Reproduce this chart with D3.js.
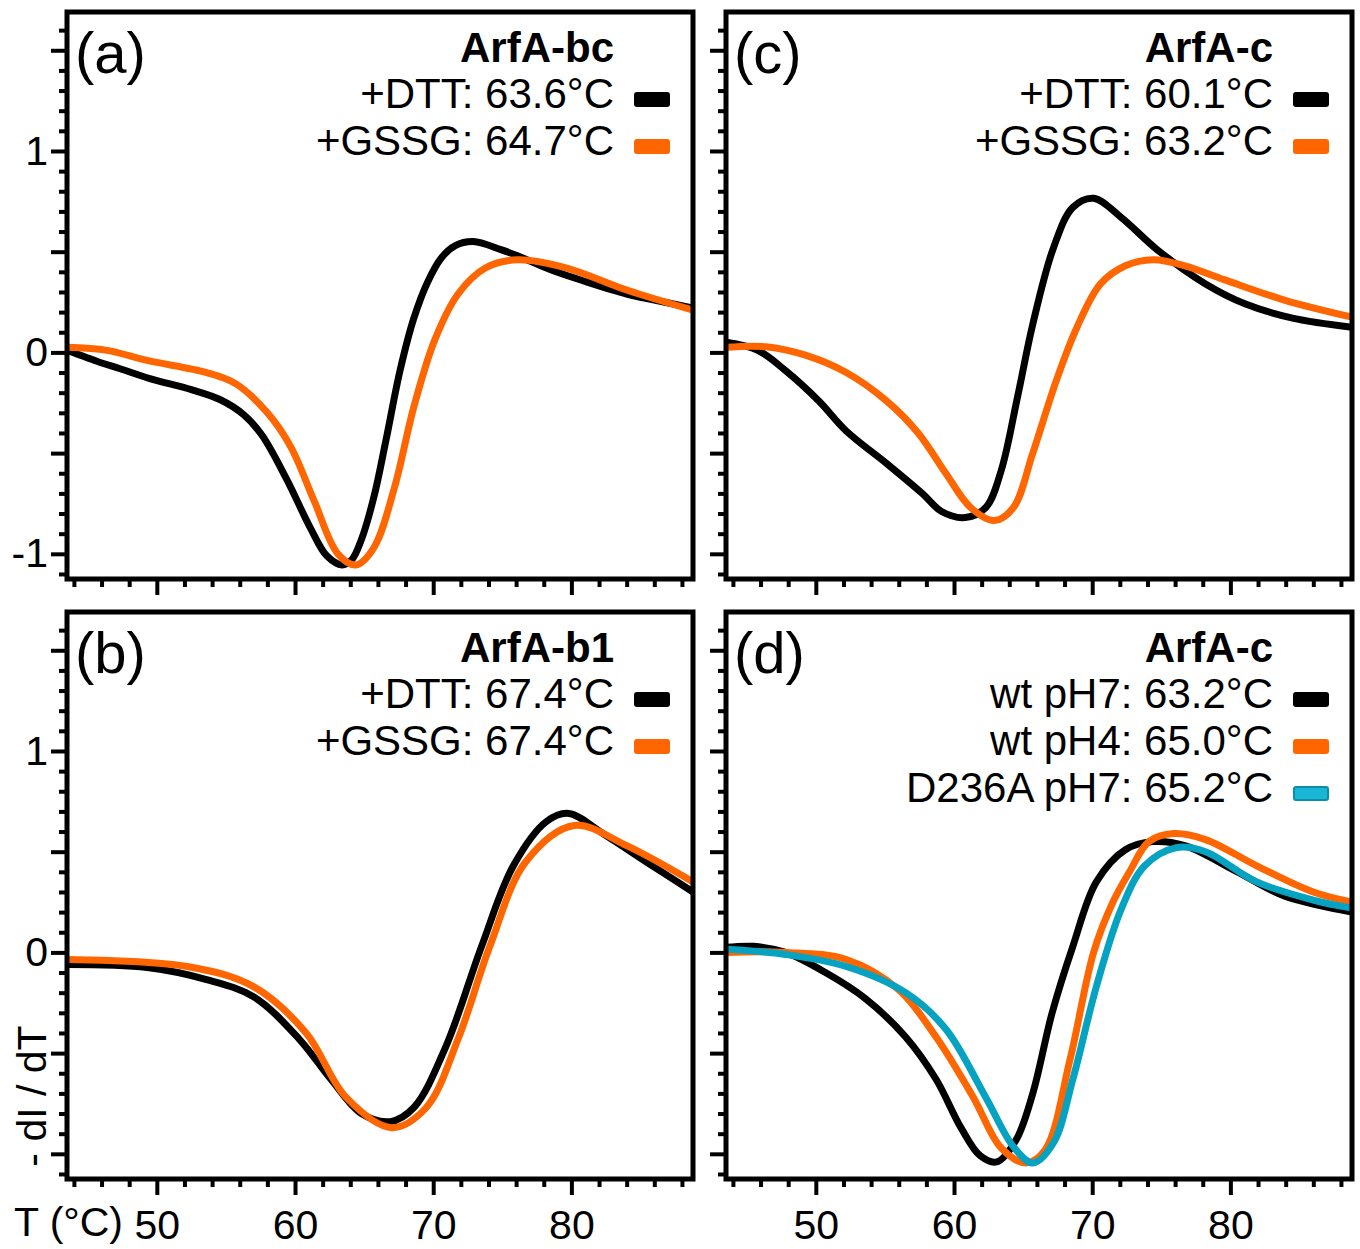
<!DOCTYPE html>
<html>
<head>
<meta charset="utf-8">
<script src="https://cdn.jsdelivr.net/npm/d3@7"></script>
<style>
  body { margin: 0; background: #fff; }
  text { font-family: "Liberation Sans", Arial, Helvetica, sans-serif; fill: #000; }
</style>
</head>
<body>
<svg id="chart" width="1360" height="1249"></svg>
<script>
// [T (°C), -dI/dT]
const aDtt = [[43.5, 0.01], [45.9, -0.05], [47.3, -0.08], [49.5, -0.13], [52.5, -0.185], [54.6, -0.235], [56.3, -0.31],
  [57.6, -0.41], [59.4, -0.63], [61.1, -0.87], [62.3, -1.01], [63.4, -1.055], [64.1, -1.03], [64.8, -0.93], [65.7, -0.72],
  [66.6, -0.43], [67.6, -0.09], [68.6, 0.17], [69.6, 0.35], [70.6, 0.47], [71.6, 0.53], [72.9, 0.55], [74.9, 0.51],
  [76.1, 0.48], [78.5, 0.41], [81.1, 0.35], [84, 0.29], [86, 0.26], [88.8, 0.22]];
const aGssg = [[43.5, 0.025], [46.4, 0.01], [49.3, -0.04], [53.6, -0.10], [55.7, -0.155], [58, -0.30], [59.7, -0.47],
  [61.4, -0.74], [63.1, -1.0], [64.4, -1.055], [65.7, -0.97], [67.2, -0.67], [68.6, -0.27], [70.1, 0.06], [71.8, 0.29],
  [73.8, 0.42], [76.1, 0.46], [79.6, 0.42], [84, 0.31], [88.8, 0.21]];

const bDtt = [[43.5, -0.06], [49.3, -0.075], [53.6, -0.135], [57, -0.22], [60.3, -0.43], [62.6, -0.63], [64.8, -0.80],
  [66.9, -0.84], [68.6, -0.77], [70.9, -0.47], [73.5, 0.03], [75.8, 0.43], [78.2, 0.65], [79.8, 0.69], [82.5, 0.58],
  [85.4, 0.45], [88.8, 0.30]];
const bGssg = [[43.5, -0.035], [52.2, -0.07], [57, -0.17], [60.8, -0.40], [63.7, -0.72], [67, -0.87], [69.5, -0.77],
  [71.8, -0.43], [74.1, 0.03], [76.7, 0.45], [80.2, 0.63], [84, 0.53], [88.8, 0.35]];

const cDtt = [[43.5, 0.05], [45.8, 0.01], [47.8, -0.09], [50.2, -0.24], [52.2, -0.39], [55.1, -0.55], [57.7, -0.70],
  [59.1, -0.79], [60.8, -0.82], [62.3, -0.77], [63.4, -0.59], [64.6, -0.22], [65.7, 0.14], [67.2, 0.52], [68.6, 0.72],
  [70.1, 0.765], [72.1, 0.67], [74.7, 0.51], [78.2, 0.34], [81.1, 0.24], [84.5, 0.17], [88.8, 0.125]];
const cGssg = [[43.5, 0.025], [46.4, 0.028], [49.3, -0.015], [52.2, -0.10], [55.1, -0.24], [57.4, -0.40], [59.4, -0.60],
  [61.2, -0.77], [62.9, -0.835], [64.3, -0.77], [65.7, -0.50], [67.4, -0.14], [68.9, 0.125], [70.6, 0.34], [72.4, 0.43],
  [74.4, 0.46], [76.7, 0.43], [79.6, 0.36], [83.9, 0.26], [88.8, 0.175]];

const dWtPh7 = [[43.5, 0.025], [45.5, 0.03], [47.8, 0.0], [50.7, -0.10], [53.6, -0.23], [56.5, -0.42], [58.7, -0.63],
  [60.5, -0.87], [61.9, -1.01], [63.1, -1.04], [64.5, -0.93], [65.7, -0.70], [67.1, -0.30], [68.6, 0.03], [70.3, 0.35],
  [72.4, 0.51], [74.4, 0.55], [76.7, 0.53], [80.5, 0.40], [83.9, 0.28], [88.8, 0.20]];
const dWtPh4 = [[43.5, 0.0], [47.8, 0.0], [52.2, -0.035], [55.9, -0.18], [58.7, -0.42], [61.4, -0.72], [63.4, -0.97],
  [65.2, -1.045], [66.6, -0.98], [68.4, -0.53], [70.1, 0.0], [71.5, 0.25], [72.7, 0.40], [74.1, 0.55], [75.9, 0.59],
  [78.2, 0.56], [81.9, 0.43], [86, 0.30], [88.8, 0.25]];
const dD236A = [[43.8, 0.015], [47.8, -0.01], [52.2, -0.07], [56.5, -0.20], [59.4, -0.38], [62.3, -0.72], [64.3, -0.965],
  [65.7, -1.045], [67.2, -0.945], [68.6, -0.63], [70.3, -0.17], [72.1, 0.215], [73.8, 0.43], [76.1, 0.52], [78.2, 0.50],
  [81.9, 0.35], [86, 0.26], [88.8, 0.22]];

const xMajor = [50, 60, 70, 80];
const xMinor = d3.range(44, 89, 2).filter(t => t % 10 !== 0);
const yMajor = [-1, -0.5, 0, 0.5, 1, 1.5];
const yMinor = d3.range(-11, 17).map(i => i / 10).filter(v => Math.abs(v * 2 - Math.round(v * 2)) > 1e-9);

const BLACK = "#000000", ORANGE = "#ff6600", CYAN = "#05a2c2";

const panels = [
  { label: "(a)", title: "ArfA-bc", x: 67, y: 12, yLabels: [-1, 0, 1], bottom: false,
    series: [{ name: "+DTT: 63.6°C", data: aDtt, color: BLACK }, { name: "+GSSG: 64.7°C", data: aGssg, color: ORANGE }] },
  { label: "(b)", title: "ArfA-b1", x: 67, y: 612, yLabels: [0, 1], bottom: true,
    series: [{ name: "+DTT: 67.4°C", data: bDtt, color: BLACK }, { name: "+GSSG: 67.4°C", data: bGssg, color: ORANGE }] },
  { label: "(c)", title: "ArfA-c", x: 726, y: 12, yLabels: [], bottom: false,
    series: [{ name: "+DTT: 60.1°C", data: cDtt, color: BLACK }, { name: "+GSSG: 63.2°C", data: cGssg, color: ORANGE }] },
  { label: "(d)", title: "ArfA-c", x: 726, y: 612, yLabels: [], bottom: true,
    series: [{ name: "wt pH7: 63.2°C", data: dWtPh7, color: BLACK }, { name: "wt pH4: 65.0°C", data: dWtPh4, color: ORANGE },
             { name: "D236A pH7: 65.2°C", data: dD236A, color: CYAN }] }
];

const W = 626, H = 567;
const svg = d3.select("#chart");
const x = d3.scaleLinear().domain([43.5, 88.8]).range([0, W]);
const y = d3.scaleLinear().domain([-1.125, 1.69]).range([H, 0]);
const line = d3.line().x(d => x(d[0])).y(d => y(d[1])).curve(d3.curveCatmullRom.alpha(0.5));

function styleAxis(g) {
  g.select(".domain").remove();
  g.selectAll(".tick line").attr("stroke", "#000").attr("stroke-width", 4);
  g.selectAll(".tick text").attr("font-size", 41).attr("fill", "#000")
    .attr("font-family", "'Liberation Sans', Arial, sans-serif");
}

panels.forEach((p, pi) => {
  const g = svg.append("g").attr("transform", `translate(${p.x},${p.y})`);
  const clipId = "clip" + pi;
  g.append("clipPath").attr("id", clipId).append("rect").attr("width", W).attr("height", H);

  // x axis ticks (labels only on bottom row)
  g.append("g").attr("transform", `translate(0,${H})`)
    .call(d3.axisBottom(x).tickValues(xMinor).tickSize(8).tickFormat(""))
    .call(styleAxis);
  g.append("g").attr("transform", `translate(0,${H})`)
    .call(d3.axisBottom(x).tickValues(xMajor).tickSize(16).tickPadding(15)
      .tickFormat(p.bottom ? d3.format("d") : ""))
    .call(styleAxis);

  // y axis ticks (labels only on left column)
  g.append("g").call(d3.axisLeft(y).tickValues(yMinor).tickSize(8).tickFormat("")).call(styleAxis);
  g.append("g").call(d3.axisLeft(y).tickValues(yMajor).tickSize(16).tickPadding(3)
      .tickFormat(d => p.yLabels.includes(d) ? String(d) : ""))
    .call(styleAxis);

  const plot = g.append("g").attr("clip-path", `url(#${clipId})`);
  p.series.forEach(s => {
    plot.append("path").datum(s.data)
      .attr("fill", "none").attr("stroke", s.color).attr("stroke-width", 7)
      .attr("stroke-linejoin", "round").attr("stroke-linecap", "round")
      .attr("d", line);
  });

  g.append("rect").attr("width", W).attr("height", H)
    .attr("fill", "none").attr("stroke", "#000").attr("stroke-width", 5);

  g.append("text").attr("x", 8).attr("y", 61).attr("font-size", 58).text(p.label);
  g.append("text").attr("x", W - 79).attr("y", 50).attr("text-anchor", "end")
    .attr("font-size", 42).attr("font-weight", "bold").text(p.title);

  p.series.forEach((s, i) => {
    const by = 96 + i * 47;
    g.append("text").attr("x", W - 79).attr("y", by).attr("text-anchor", "end")
      .attr("font-size", 42).text(s.name);
    g.append("rect").attr("x", W - 58).attr("y", by - 15).attr("width", 34).attr("height", 13).attr("rx", 2)
      .attr("fill", s.color === CYAN ? "#19b6d6" : s.color)
      .attr("stroke", s.color === CYAN ? "#0a8eaa" : s.color).attr("stroke-width", 2);
  });
});

svg.append("text").attr("transform", "translate(46,1096) rotate(-90)")
  .attr("text-anchor", "middle").attr("font-size", 41).attr("xml:space", "preserve").text("- dI / dT");
svg.append("text").attr("x", 14).attr("y", 1236).attr("font-size", 41).text("T (°C)");
</script>
</body>
</html>
